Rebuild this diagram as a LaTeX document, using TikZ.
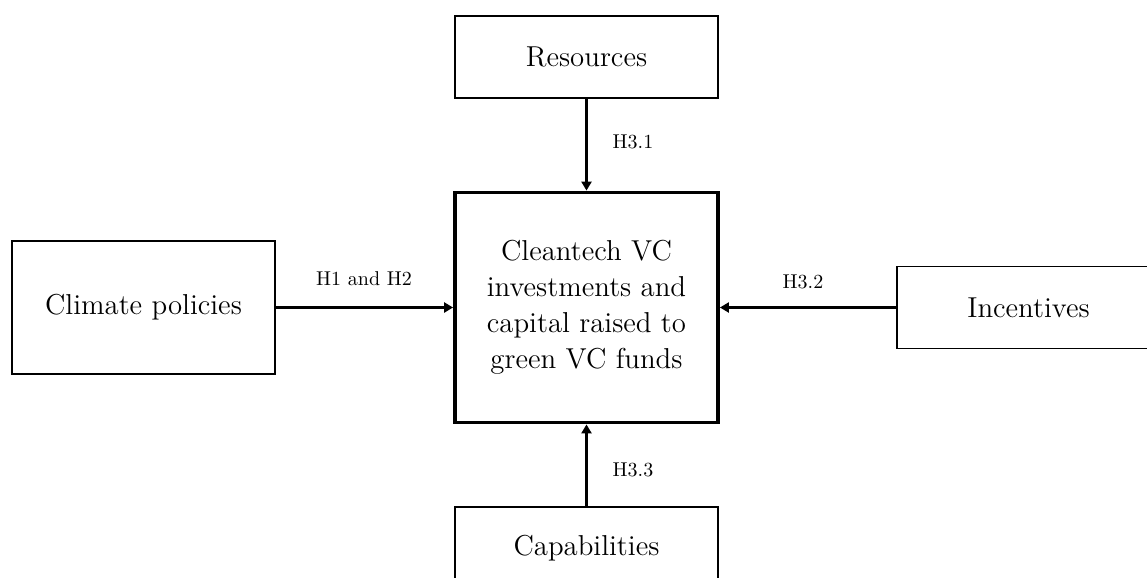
\documentclass[tikz,border=0pt]{standalone}
\usetikzlibrary{arrows.meta}
\begin{document}
\begin{tikzpicture}[x=0.5pt,y=-0.5pt,
  factor/.style={draw, line width=0.9pt, minimum width=131.5pt, minimum height=41pt,
    inner sep=0pt, font=\Large},
  outcome/.style={draw, line width=1.9pt, minimum width=131.5pt, minimum height=115pt,
    inner sep=0pt, align=center, font=\Large},
  link/.style={line width=1.3pt, -{Triangle[length=4.5pt,width=5pt]}},
  hyp/.style={font=\normalsize}]
  \useasboundingbox (0,0) rectangle (1147,578);
  \clip (0,0) rectangle (1147,578);

  % central outcome
  \node[outcome] (out) at (586.5,307.5) {Cleantech VC\\investments and\\capital raised to\\green VC funds};

  % determinants
  \node[factor] (res) at (586.5,57) {Resources};
  \node[factor, minimum height=66.5pt] (clim) at (143.5,307.5) {Climate policies};
  \node[factor] (inc) at (1028.5,307.5) {Incentives};
  \node[factor] (cap) at (586.5,548) {Capabilities};

  % hypothesised effects
  \draw[link] (res) -- (out);
  \draw[link] (clim) -- (out);
  \draw[link] (inc) -- (out);
  \draw[link] (cap) -- (out);

  % hypothesis labels
  \node[hyp] (h31) at (633,142) {H3.1};
  \node[hyp] (h12) at (364,279) {H1 and H2};
  \node[hyp] (h32) at (803,282) {H3.2};
  \node[hyp] (h33) at (633,470) {H3.3};
\end{tikzpicture}
\end{document}
